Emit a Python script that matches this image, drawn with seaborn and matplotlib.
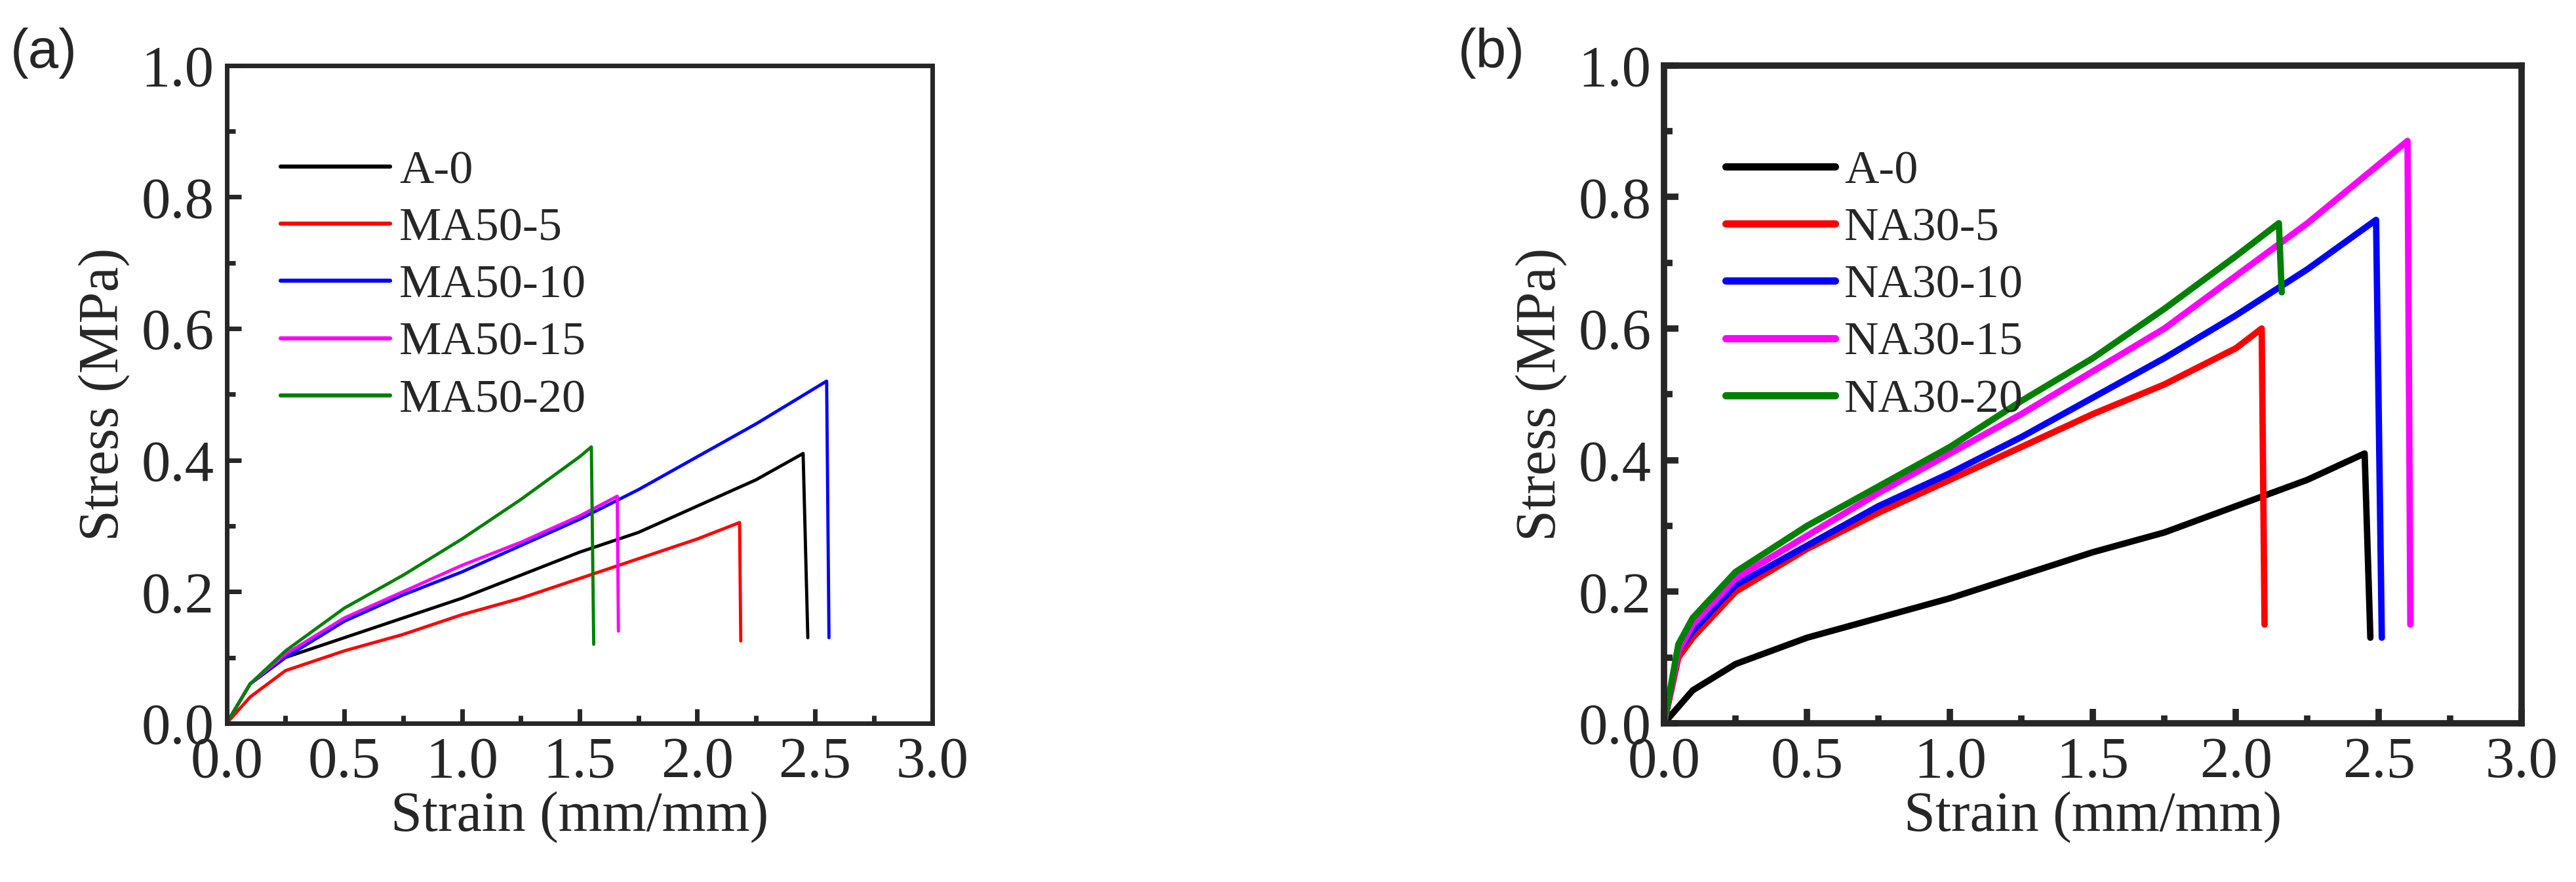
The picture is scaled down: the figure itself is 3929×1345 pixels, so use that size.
import matplotlib
matplotlib.use("Agg")
import matplotlib.pyplot as plt
import seaborn as sns
import pandas as pd
from matplotlib.ticker import MultipleLocator

sns.set_theme(style="ticks")
plt.rcParams['font.family'] = ['Liberation Serif', 'DejaVu Serif']

# Panel (a)
a_labels = ["A-0", "MA50-5", "MA50-10", "MA50-15", "MA50-20"]
a_x = [
    [0, 0.1, 0.25, 0.5, 0.75, 1.0, 1.25, 1.5, 1.75, 2.0, 2.25, 2.45, 2.47],
    [0, 0.1, 0.25, 0.5, 0.75, 1.0, 1.25, 1.5, 1.75, 2.0, 2.18, 2.185],
    [0, 0.1, 0.25, 0.5, 0.75, 1.0, 1.25, 1.5, 1.75, 2.0, 2.25, 2.55, 2.56],
    [0, 0.1, 0.25, 0.5, 0.75, 1.0, 1.25, 1.5, 1.66, 1.665],
    [0, 0.1, 0.25, 0.5, 0.75, 1.0, 1.25, 1.5, 1.55, 1.56],
]
a_y = [
    [0, 0.06, 0.10, 0.13, 0.16, 0.19, 0.225, 0.26, 0.29, 0.33, 0.37, 0.41, 0.13],
    [0, 0.04, 0.08, 0.11, 0.135, 0.165, 0.19, 0.22, 0.25, 0.28, 0.305, 0.125],
    [0, 0.06, 0.10, 0.155, 0.195, 0.23, 0.27, 0.31, 0.355, 0.405, 0.455, 0.52, 0.13],
    [0, 0.06, 0.105, 0.16, 0.20, 0.24, 0.275, 0.315, 0.345, 0.14],
    [0, 0.06, 0.11, 0.175, 0.225, 0.28, 0.34, 0.405, 0.42, 0.12],
]
# Panel (b)
b_labels = ["A-0", "NA30-5", "NA30-10", "NA30-15", "NA30-20"]
b_x = [
    [0, 0.1, 0.25, 0.5, 0.75, 1.0, 1.25, 1.5, 1.75, 2.0, 2.25, 2.45, 2.47],
    [0, 0.05, 0.1, 0.25, 0.5, 0.75, 1.0, 1.25, 1.5, 1.75, 2.0, 2.09, 2.10],
    [0, 0.05, 0.1, 0.25, 0.5, 0.75, 1.0, 1.25, 1.5, 1.75, 2.0, 2.25, 2.49, 2.51],
    [0, 0.05, 0.1, 0.25, 0.5, 0.75, 1.0, 1.25, 1.5, 1.75, 2.0, 2.25, 2.60, 2.61],
    [0, 0.05, 0.1, 0.25, 0.5, 0.75, 1.0, 1.25, 1.5, 1.75, 2.0, 2.15, 2.16],
]
b_y = [
    [0, 0.05, 0.09, 0.13, 0.16, 0.19, 0.225, 0.26, 0.29, 0.33, 0.37, 0.41, 0.13],
    [0, 0.10, 0.13, 0.20, 0.265, 0.32, 0.37, 0.42, 0.47, 0.515, 0.57, 0.60, 0.15],
    [0, 0.11, 0.14, 0.21, 0.27, 0.33, 0.38, 0.435, 0.495, 0.555, 0.62, 0.69, 0.765, 0.13],
    [0, 0.11, 0.15, 0.22, 0.285, 0.35, 0.41, 0.47, 0.535, 0.60, 0.68, 0.76, 0.885, 0.15],
    [0, 0.12, 0.16, 0.23, 0.30, 0.36, 0.42, 0.49, 0.555, 0.63, 0.71, 0.76, 0.655],
]
colors = ["black", "#ff0000", "#0000ff", "#ff00ff", "#008000"]

fig = plt.figure(figsize=(39.29, 13.45), dpi=100)
ax1 = fig.add_axes([0.088, 0.180, 0.274, 0.746])
ax2 = fig.add_axes([0.646, 0.180, 0.333, 0.746])

def draw(ax, labels, xs, ys, lw, spw):
    rows = []
    for lab, x, y in zip(labels, xs, ys):
        for i, (xx, yy) in enumerate(zip(x, y)):
            rows.append({"s": lab, "x": xx, "y": yy, "o": i})
    df = pd.DataFrame(rows)
    sns.lineplot(data=df, x="x", y="y", hue="s", units="s", estimator=None, sort=False,
                 palette=dict(zip(labels, colors)), hue_order=labels, lw=lw, ax=ax)
    ax.set_xlim(0, 3.0)
    ax.set_ylim(0, 1.0)
    ax.xaxis.set_major_locator(MultipleLocator(0.5))
    ax.xaxis.set_minor_locator(MultipleLocator(0.25))
    ax.yaxis.set_major_locator(MultipleLocator(0.2))
    ax.yaxis.set_minor_locator(MultipleLocator(0.1))
    ax.tick_params(which="both", direction="in", labelsize=64, width=spw, pad=14)
    ax.tick_params(which="major", length=16)
    ax.tick_params(which="minor", length=9)
    ax.xaxis.set_major_formatter(matplotlib.ticker.FormatStrFormatter("%.1f"))
    ax.yaxis.set_major_formatter(matplotlib.ticker.FormatStrFormatter("%.1f"))
    for sp in ax.spines.values():
        sp.set_linewidth(spw)
    ax.set_xlabel("Strain (mm/mm)", fontsize=62, labelpad=2)
    ax.set_ylabel("Stress (MPa)", fontsize=62, labelpad=12)
    leg = ax.legend(loc="upper left", bbox_to_anchor=(0.05, 0.9), frameon=False,
                    fontsize=52, handlelength=2.3, labelspacing=0.3, handletextpad=0.2,
                    borderaxespad=0)
    for h in leg.get_lines():
        h.set_linewidth(lw + 1)

draw(ax1, a_labels, a_x, a_y, 3.5, 5)
draw(ax2, b_labels, b_x, b_y, 7, 7)

fig.text(0.004, 0.94, "(a)", fontsize=60, family="Liberation Sans", va="center")
fig.text(0.566, 0.94, "(b)", fontsize=60, family="Liberation Sans", va="center")

fig.savefig("out.png", dpi=100)
